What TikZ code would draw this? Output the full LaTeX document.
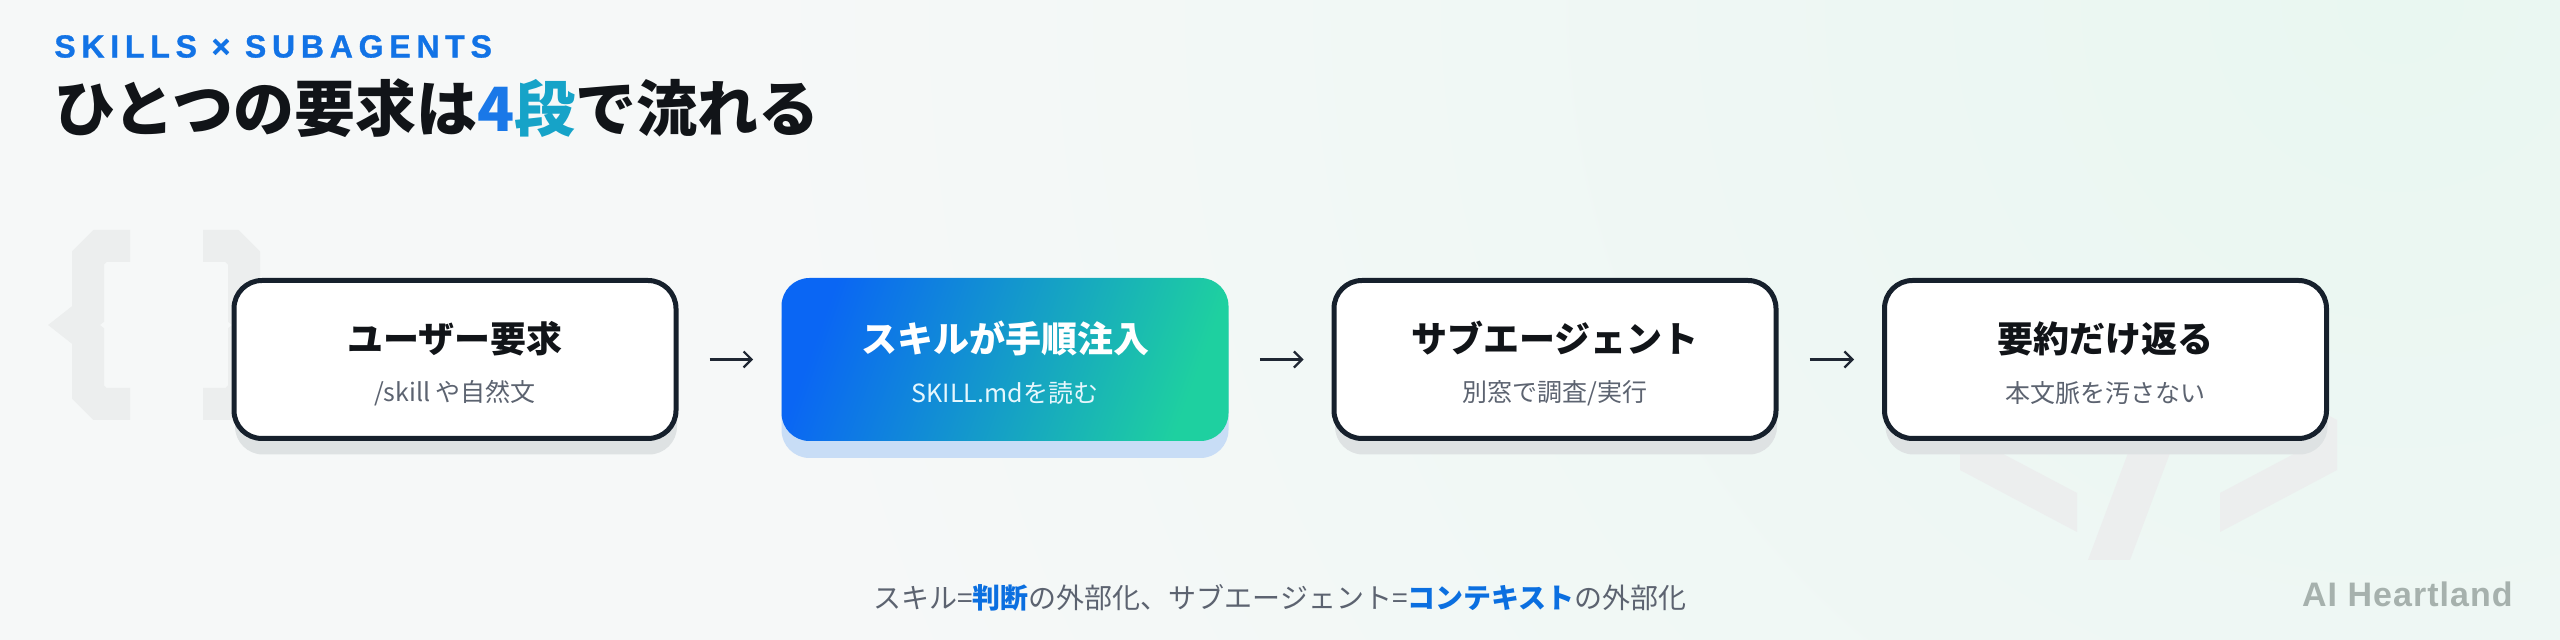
\documentclass[tikz,border=0pt]{standalone}
\usepackage{fontspec}
\usetikzlibrary{arrows.meta,calc,shadows}
\newfontfamily\jp{Noto Sans CJK JP}
\newfontfamily\jpblack{Noto Sans CJK JP Black}
\newfontfamily\lat[LetterSpace=18,FakeBold=1]{Liberation Sans}
\newfontfamily\brandfont[LetterSpace=3]{Liberation Sans}
\definecolor{bg}{HTML}{F6F8F8}
\definecolor{mint}{HTML}{E9F7F1}
\definecolor{ink}{HTML}{111418}
\definecolor{border}{HTML}{16202C}
\definecolor{subc}{HTML}{5C6370}
\definecolor{accent}{HTML}{0B6FE0}
\definecolor{wm}{HTML}{ECEEEE}
\definecolor{shadowg}{HTML}{DEE2E3}
\definecolor{shadowb}{HTML}{C8DDF6}
\definecolor{gA}{HTML}{0A66F4}
\definecolor{gB}{HTML}{1ED0A0}
\definecolor{brand}{HTML}{A6B1AD}
\definecolor{skillc}{HTML}{1273E6}
\definecolor{four}{HTML}{1A78E8}
\definecolor{dan}{HTML}{16A3C8}
\definecolor{arrowc}{HTML}{1F2733}
\pgfdeclareradialshading{mintglow}{\pgfpoint{0bp}{0bp}}{color(0bp)=(mint); color(16bp)=(bg); color(50bp)=(bg)}
\tikzset{
  stagebox/.style={draw=border, line width=2.5pt, fill=white, rounded corners=14pt,
    minimum width=221pt, minimum height=79pt, inner sep=0pt,
    drop shadow={shadow xshift=0.5pt, shadow yshift=-8pt, fill=shadowg, opacity=1}},
  hotbox/.style={rounded corners=14pt, minimum width=223.5pt, minimum height=81.5pt, inner sep=0pt,
    left color=gA, right color=gB, shading angle=70,
    drop shadow={shadow xshift=0pt, shadow yshift=-8.5pt, fill=shadowb, opacity=1}},
  stagetitle/.style={font=\jpblack\fontsize{18pt}{20pt}\selectfont, text=ink, inner sep=0pt},
  stagesub/.style={font=\jp\fontsize{12.5pt}{14pt}\selectfont, text=subc, inner sep=0pt},
  flow/.style={draw=arrowc, line width=1.1pt, -{Straight Barb[length=4pt,width=8pt]},
    shorten <=15.5pt, shorten >=14pt},
  wmark/.style={fill=wm},
  wbrace/.style={draw=wm, line width=16pt, line join=miter}
}
\begin{document}
\begin{tikzpicture}[x=0.5pt,y=-0.5pt]
\useasboundingbox (0,0) rectangle (2560,640);
\fill[bg] (0,0) rectangle (2560,640);
\begin{scope}
\clip (0,0) rectangle (2560,640);
\shade[shading=mintglow] (2400,0) circle (2600);
\end{scope}
% watermark braces
\draw[wbrace] (130,246) -- (100,246) -- (88,258) -- (88,314) -- (74,325) -- (88,336) -- (88,392) -- (100,404) -- (130,404);
\draw[wbrace] (203,246) -- (232,246) -- (244,258) -- (244,314) -- (258,325) -- (244,336) -- (244,392) -- (232,404) -- (203,404);
% watermark </>
\fill[wmark] (1960,420) -- (2077,358) -- (2077,397) -- (1986,445) -- (2077,493) -- (2077,532) -- (1960,470) -- cycle;
\fill[wmark] (2337,420) -- (2220,358) -- (2220,397) -- (2311,445) -- (2220,493) -- (2220,532) -- (2337,470) -- cycle;
\fill[wmark] (2088,560) -- (2130,560) -- (2216,330) -- (2174,330) -- cycle;
% headings
\node[anchor=west, inner sep=0pt, font=\lat\bfseries\fontsize{16pt}{18pt}\selectfont, text=skillc] (kicker) at (54,46.5) {SKILLS × SUBAGENTS};
\node[anchor=west, inner sep=0pt, font=\jpblack\fontsize{30.5pt}{34pt}\selectfont, text=ink] (title) at (54,108) {ひとつの要求は\textcolor{four}{4}\textcolor{dan}{段}で流れる};
% stages
\node[stagebox] (b1) at (455,359.5) {};
\node[hotbox] (b2) at (1005,359.5) {};
\node[stagebox] (b3) at (1555,359.5) {};
\node[stagebox] (b4) at (2105.5,359.5) {};
\node[stagetitle] (t1) at ($(b1)+(0,-21)$) {ユーザー要求};
\node[stagesub] (s1) at ($(b1)+(0,34)$) {/skill や自然文};
\node[stagetitle, text=white] (t2) at ($(b2)+(0,-21)$) {スキルが手順注入};
\node[stagesub, text=white!90!cyan] (s2) at ($(b2)+(0,34)$) {SKILL.mdを読む};
\node[stagetitle] (t3) at ($(b3)+(0,-21)$) {サブエージェント};
\node[stagesub] (s3) at ($(b3)+(0,34)$) {別窓で調査/実行};
\node[stagetitle] (t4) at ($(b4)+(0,-21)$) {要約だけ返る};
\node[stagesub] (s4) at ($(b4)+(0,34)$) {本文脈を汚さない};
\draw[flow] (b1) -- (b2);
\draw[flow] (b2) -- (b3);
\draw[flow] (b3) -- (b4);
% footer
\node[inner sep=0pt, font=\jp\fontsize{14pt}{16pt}\selectfont, text=subc] (foot) at (1280,598) {スキル={\bfseries\color{accent}判断}の外部化、サブエージェント={\bfseries\color{accent}コンテキスト}の外部化};
\node[anchor=base east, inner sep=0pt, font=\brandfont\bfseries\fontsize{17pt}{19pt}\selectfont, text=brand] (brand) at (2513,607) {AI Heartland};
\end{tikzpicture}
\end{document}
